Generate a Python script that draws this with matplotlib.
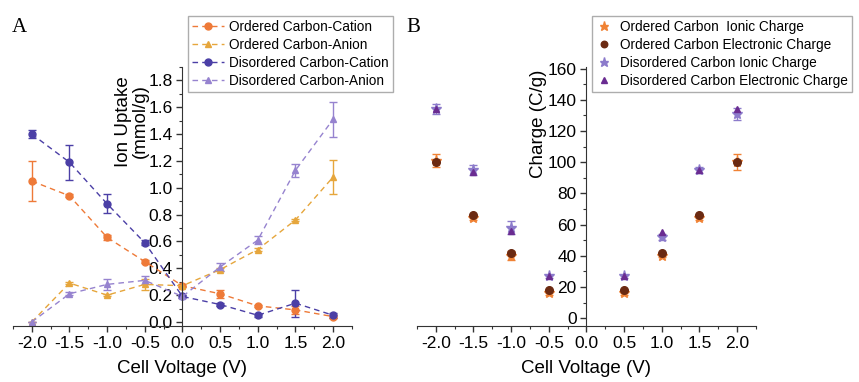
import matplotlib
matplotlib.use('Agg')
import matplotlib.pyplot as plt
from matplotlib.ticker import MultipleLocator
from matplotlib.lines import Line2D

plt.rcParams['font.family'] = ['Liberation Sans', 'DejaVu Sans']

# ---- panel A data: ion uptake (mmol/g) vs cell voltage ----
volts = [-2.0, -1.5, -1.0, -0.5, 0.0, 0.5, 1.0, 1.5, 2.0]

ord_cat = [1.05, 0.94, 0.63, 0.45, 0.27, 0.21, 0.12, 0.09, 0.04]
ord_cat_err = [0.15, 0.01, 0.02, 0.01, 0.01, 0.03, 0.01, 0.03, 0.01]
ord_an = [0.0, 0.29, 0.20, 0.28, 0.27, 0.39, 0.54, 0.76, 1.08]
ord_an_err = [0.0, 0.01, 0.01, 0.04, 0.01, 0.01, 0.01, 0.01, 0.13]
dis_cat = [1.40, 1.19, 0.88, 0.59, 0.19, 0.13, 0.05, 0.14, 0.05]
dis_cat_err = [0.03, 0.13, 0.07, 0.02, 0.01, 0.01, 0.01, 0.10, 0.02]
dis_an = [0.0, 0.21, 0.28, 0.31, 0.19, 0.41, 0.61, 1.13, 1.51]
dis_an_err = [0.0, 0.01, 0.04, 0.03, 0.01, 0.03, 0.03, 0.05, 0.13]

# ---- panel B data: charge (C/g) ----
volts_b = [-2.0, -1.5, -1.0, -0.5, 0.5, 1.0, 1.5, 2.0]
ord_ionic = [101, 64, 40, 16, 16, 40, 64, 100]
ord_ionic_err = [4, 1, 3, 1, 1, 1, 1, 5]
ord_elec = [100, 66, 42, 18, 18, 42, 66, 100]
dis_ionic = [134, 95, 58, 27, 27, 52, 95, 131]
dis_ionic_err = [3, 3, 4, 1, 1, 2, 2, 4]
dis_elec = [134, 94, 56, 27, 27, 55, 95, 134]

fig = plt.figure(figsize=(8.59, 3.82), dpi=100)
axA = fig.add_axes([0.0151, 0.1466, 0.3946, 0.678])
axB = fig.add_axes([0.4854, 0.1466, 0.3946, 0.678])

seriesA = [
    (ord_cat, ord_cat_err, '#EE7A38', 'o', 'Ordered Carbon-Cation'),
    (ord_an, ord_an_err, '#E6A63C', '^', 'Ordered Carbon-Anion'),
    (dis_cat, dis_cat_err, '#4B3FA6', 'o', 'Disordered Carbon-Cation'),
    (dis_an, dis_an_err, '#9683CF', '^', 'Disordered Carbon-Anion'),
]
handlesA = []
for y, e, c, m, lab in seriesA:
    axA.errorbar(volts, y, yerr=e, color=c, marker=m, markersize=5,
                 linestyle=(0, (4, 3)), linewidth=1, elinewidth=1,
                 capsize=3, capthick=1)
    handlesA.append(Line2D([], [], color=c, marker=m, markersize=5,
                           linestyle=(0, (4, 3)), linewidth=1, label=lab))

seriesB = [
    (ord_ionic, ord_ionic_err, '#F08234', '*', 8, 'Ordered Carbon  Ionic Charge'),
    (ord_elec, None, '#6B2A12', 'o', 5.5, 'Ordered Carbon Electronic Charge'),
    (dis_ionic, dis_ionic_err, '#8C7BCB', '*', 8, 'Disordered Carbon Ionic Charge'),
    (dis_elec, None, '#6A2C91', '^', 5, 'Disordered Carbon Electronic Charge'),
]
handlesB = []
for y, e, c, m, ms, lab in seriesB:
    axB.errorbar(volts_b, y, yerr=e, color=c, marker=m, markersize=ms,
                 linestyle='none', elinewidth=1, capsize=3, capthick=1)
    handlesB.append(Line2D([], [], color=c, marker=m, markersize=ms * 0.85,
                           linestyle='none', label=lab))

axA.set_ylim(-0.03, 1.9)
axA.yaxis.set_major_locator(MultipleLocator(0.2))
axA.yaxis.set_minor_locator(MultipleLocator(0.1))
axB.set_ylim(-5, 161)
axB.yaxis.set_major_locator(MultipleLocator(20))
axB.yaxis.set_minor_locator(MultipleLocator(10))

for ax in (axA, axB):
    ax.set_xlim(-2.25, 2.25)
    ax.set_xticks(volts)
    ax.set_xticklabels(['%.1f' % v for v in volts])
    ax.xaxis.set_minor_locator(MultipleLocator(0.25))
    ax.spines['left'].set_position(('data', 0))
    ax.spines['top'].set_visible(False)
    ax.spines['right'].set_visible(False)
    ax.spines['left'].set_color('#333333')
    ax.spines['bottom'].set_color('#333333')
    ax.tick_params(which='major', direction='out', length=4, width=1,
                   labelsize=12.5, color='#333333', pad=3)
    ax.tick_params(which='minor', direction='out', length=2.5, width=0.8,
                   color='#333333')
    ax.set_xlabel('Cell Voltage (V)', fontsize=13.5, labelpad=7)
    ax.set_facecolor('none')

axA.yaxis.set_major_formatter(plt.FuncFormatter(lambda v, p: '%.1f' % v))
axA.set_ylabel('Ion Uptake\n(mmol/g)', fontsize=13.5, linespacing=1.0)
axA.yaxis.set_label_coords(0.402, 0.79)
axB.set_ylabel('Charge (C/g)', fontsize=13.5)
axB.yaxis.set_label_coords(0.385, 0.78)

axA.legend(handles=handlesA, loc='upper left', bbox_to_anchor=(0.219, 0.958),
           bbox_transform=fig.transFigure, fontsize=9.8, frameon=True,
           fancybox=False, edgecolor='#999999', labelspacing=0.28,
           handlelength=2.3, borderpad=0.3, handletextpad=0.4,
           borderaxespad=0)
axB.legend(handles=handlesB, loc='upper left', bbox_to_anchor=(0.689, 0.958),
           bbox_transform=fig.transFigure, fontsize=9.8, frameon=True,
           fancybox=False, edgecolor='#999999', labelspacing=0.28,
           handlelength=1.2, borderpad=0.3, handletextpad=0.6,
           borderaxespad=0)

fig.text(0.014, 0.915, 'A', fontsize=15, family='Liberation Serif')
fig.text(0.473, 0.915, 'B', fontsize=15, family='Liberation Serif')

fig.savefig('out.png', dpi=100)
